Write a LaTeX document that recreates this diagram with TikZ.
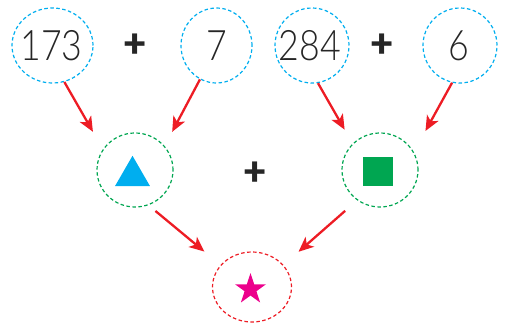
\documentclass[tikz,border=0pt]{standalone}
\usepackage{fontspec}
\usepackage{tikz}
\usetikzlibrary{arrows.meta,shapes.geometric}
\newfontfamily\numfont{Lato}[UprightFont={* Light}]
\newfontfamily\plusfont{Lato}[UprightFont={* Black}]
\definecolor{skyblue}{RGB}{0,174,239}
\definecolor{leafgreen}{RGB}{0,166,81}
\definecolor{arrred}{RGB}{237,28,36}
\definecolor{pinkstar}{RGB}{236,0,140}

\begin{document}
\begin{tikzpicture}[x=1pt, y=-1pt, >={Stealth[length=15pt,width=13pt,inset=4pt]},
  ring/.style={draw, ellipse, dash pattern=on 3.5pt off 2.5pt, line width=1.2pt, inner sep=0pt},
  num/.style={font=\fontsize{42}{42}\numfont, xscale=0.85, transform shape, text=black!85},
  plus/.style={font=\fontsize{40}{40}\plusfont, text=black!85},
  arr/.style={->, draw=arrred, fill=arrred, line width=2.3pt}]
\useasboundingbox (0,0) rectangle (506,324);
\node[ring, skyblue, minimum width=81pt, minimum height=75pt] (n173) at (52.5,45.5) {};
\node[ring, skyblue, minimum width=71pt, minimum height=75pt] (n7) at (216.5,45.5) {};
\node[ring, skyblue, minimum width=74pt, minimum height=75pt] (n284) at (312,45.5) {};
\node[ring, skyblue, minimum width=74pt, minimum height=75pt] (n6) at (460,45.5) {};
\node[num] (t173) at (51.5,46) {173};
\node[num] (t7) at (216.5,46) {7};
\node[num] (t284) at (310,46) {284};
\node[num] (t6) at (459,46) {6};
\node[plus] (p1) at (135,46) {+};
\node[plus] (p2) at (382,46) {+};
\node[ring, leafgreen, minimum width=76pt, minimum height=74pt] (tri) at (135,170) {};
\node[ring, leafgreen, minimum width=76pt, minimum height=74pt] (sq) at (380,170) {};
\node[plus] (p3) at (255,174) {+};
\node[ring, arrred, minimum width=79pt, minimum height=70pt] (star) at (252,287) {};
\node[regular polygon, regular polygon sides=3, fill=skyblue, inner sep=0pt, minimum size=40.4pt] (triShape) at (132.5,176) {};
\node[rectangle, fill=leafgreen, inner sep=0pt, minimum width=30pt, minimum height=29pt] (sqShape) at (378,171.5) {};
\node[star, star points=5, star point ratio=2.618, fill=pinkstar, inner sep=0pt, minimum size=32.6pt] (starShape) at (250.5,289.3) {};
\draw[arr, shorten >=20pt] (n173.-72) -- (tri.147);
\draw[arr, shorten >=16pt] (n7.-116) -- (tri.39);
\draw[arr, shorten >=16pt] (n284.-81) -- (sq.136);
\draw[arr, shorten >=24pt] (n6.-102) -- (sq.28);
\draw[arr, shorten <=9pt, shorten >=21pt] (tri.-69) -- (star.145);
\draw[arr, shorten <=16pt, shorten >=20pt] (sq.-127) -- (star.35);
\end{tikzpicture}
\end{document}
